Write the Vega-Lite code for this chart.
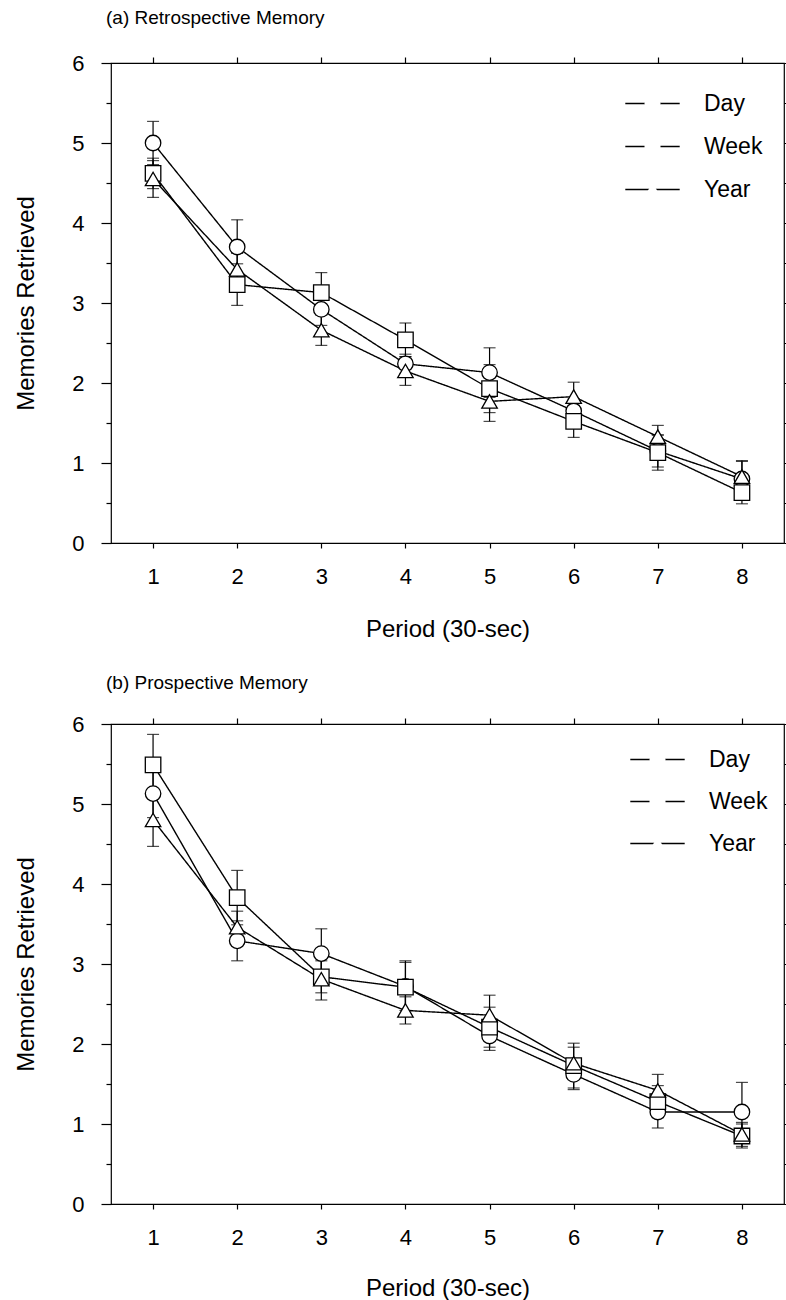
{
  "$schema": "https://vega.github.io/schema/vega-lite/v6.json",
  "padding": {"left": 14, "top": 8, "right": 0, "bottom": 0},
  "background": "white",
  "config": {
    "font": "Liberation Sans",
    "view": {"stroke": "black", "strokeWidth": 1.2},
    "axis": {"grid": false, "domain": false, "tickColor": "black", "labelColor": "black", "titleColor": "black", "titleFontWeight": "normal", "labelFont": "Liberation Sans", "titleFont": "Liberation Sans", "tickWidth": 1.2},
    "title": {"fontWeight": "normal", "color": "black", "font": "Liberation Sans"},
    "legend": {"labelFont": "Liberation Sans", "labelColor": "black", "symbolStrokeColor": "black", "symbolStrokeWidth": 1.3}
  },
  "datasets": {
    "mem": [
      {"panel": "a", "period": 1, "cond": "Day", "mean": 5.00, "se": 0.27},
      {"panel": "a", "period": 2, "cond": "Day", "mean": 3.70, "se": 0.34},
      {"panel": "a", "period": 3, "cond": "Day", "mean": 2.92, "se": 0.20},
      {"panel": "a", "period": 4, "cond": "Day", "mean": 2.24, "se": 0.12},
      {"panel": "a", "period": 5, "cond": "Day", "mean": 2.13, "se": 0.31},
      {"panel": "a", "period": 6, "cond": "Day", "mean": 1.65, "se": 0.15},
      {"panel": "a", "period": 7, "cond": "Day", "mean": 1.15, "se": 0.20},
      {"panel": "a", "period": 8, "cond": "Day", "mean": 0.80, "se": 0.22},
      {"panel": "a", "period": 1, "cond": "Week", "mean": 4.62, "se": 0.19},
      {"panel": "a", "period": 2, "cond": "Week", "mean": 3.23, "se": 0.26},
      {"panel": "a", "period": 3, "cond": "Week", "mean": 3.13, "se": 0.25},
      {"panel": "a", "period": 4, "cond": "Week", "mean": 2.54, "se": 0.21},
      {"panel": "a", "period": 5, "cond": "Week", "mean": 1.93, "se": 0.30},
      {"panel": "a", "period": 6, "cond": "Week", "mean": 1.52, "se": 0.20},
      {"panel": "a", "period": 7, "cond": "Week", "mean": 1.13, "se": 0.22},
      {"panel": "a", "period": 8, "cond": "Week", "mean": 0.63, "se": 0.14},
      {"panel": "a", "period": 1, "cond": "Year", "mean": 4.55, "se": 0.23},
      {"panel": "a", "period": 2, "cond": "Year", "mean": 3.42, "se": 0.20},
      {"panel": "a", "period": 3, "cond": "Year", "mean": 2.66, "se": 0.19},
      {"panel": "a", "period": 4, "cond": "Year", "mean": 2.15, "se": 0.18},
      {"panel": "a", "period": 5, "cond": "Year", "mean": 1.77, "se": 0.25},
      {"panel": "a", "period": 6, "cond": "Year", "mean": 1.83, "se": 0.18},
      {"panel": "a", "period": 7, "cond": "Year", "mean": 1.33, "se": 0.14},
      {"panel": "a", "period": 8, "cond": "Year", "mean": 0.83, "se": 0.20},
      {"panel": "b", "period": 1, "cond": "Day", "mean": 5.13, "se": 0.30},
      {"panel": "b", "period": 2, "cond": "Day", "mean": 3.29, "se": 0.25},
      {"panel": "b", "period": 3, "cond": "Day", "mean": 3.13, "se": 0.31},
      {"panel": "b", "period": 4, "cond": "Day", "mean": 2.72, "se": 0.30},
      {"panel": "b", "period": 5, "cond": "Day", "mean": 2.10, "se": 0.18},
      {"panel": "b", "period": 6, "cond": "Day", "mean": 1.62, "se": 0.19},
      {"panel": "b", "period": 7, "cond": "Day", "mean": 1.15, "se": 0.20},
      {"panel": "b", "period": 8, "cond": "Day", "mean": 1.15, "se": 0.37},
      {"panel": "b", "period": 1, "cond": "Week", "mean": 5.49, "se": 0.38},
      {"panel": "b", "period": 2, "cond": "Week", "mean": 3.83, "se": 0.34},
      {"panel": "b", "period": 3, "cond": "Week", "mean": 2.84, "se": 0.20},
      {"panel": "b", "period": 4, "cond": "Week", "mean": 2.71, "se": 0.33},
      {"panel": "b", "period": 5, "cond": "Week", "mean": 2.21, "se": 0.25},
      {"panel": "b", "period": 6, "cond": "Week", "mean": 1.73, "se": 0.28},
      {"panel": "b", "period": 7, "cond": "Week", "mean": 1.28, "se": 0.20},
      {"panel": "b", "period": 8, "cond": "Week", "mean": 0.85, "se": 0.15},
      {"panel": "b", "period": 1, "cond": "Year", "mean": 4.80, "se": 0.33},
      {"panel": "b", "period": 2, "cond": "Year", "mean": 3.46, "se": 0.20},
      {"panel": "b", "period": 3, "cond": "Year", "mean": 2.81, "se": 0.26},
      {"panel": "b", "period": 4, "cond": "Year", "mean": 2.42, "se": 0.17},
      {"panel": "b", "period": 5, "cond": "Year", "mean": 2.36, "se": 0.25},
      {"panel": "b", "period": 6, "cond": "Year", "mean": 1.76, "se": 0.20},
      {"panel": "b", "period": 7, "cond": "Year", "mean": 1.42, "se": 0.20},
      {"panel": "b", "period": 8, "cond": "Year", "mean": 0.87, "se": 0.15}
    ]
  },
  "spacing": 31,
  "resolve": {"scale": {"shape": "independent", "size": "independent", "strokeDash": "independent"}, "legend": {"shape": "independent", "strokeDash": "independent"}},
  "vconcat": [
    {
      "width": 673,
      "height": 480,
      "title": {"text": "(a) Retrospective Memory", "anchor": "start", "frame": "group", "fontSize": 19, "offset": 24, "dx": -5},
      "data": {"name": "mem"},
      "transform": [{"filter": "datum.panel === 'a'"}],
      "resolve": {"axis": {"x": "independent", "y": "independent"}},
      "layer": [
        {
          "mark": {"type": "line", "color": "black", "strokeWidth": 1.4},
          "encoding": {
            "x": {"field": "period", "type": "quantitative", "scale": {"domain": [0.5, 8.5], "nice": false, "zero": false},
                  "axis": {"orient": "top", "values": [1, 2, 3, 4, 5, 6, 7, 8], "labels": false, "title": null, "tickSize": 6}},
            "y": {"field": "mean", "type": "quantitative", "scale": {"domain": [0, 6], "nice": false},
                  "axis": {"orient": "right", "values": [0, 0.5, 1, 1.5, 2, 2.5, 3, 3.5, 4, 4.5, 5, 5.5, 6], "labels": false, "title": null, "tickSize": 4}},
            "strokeDash": {"field": "cond", "type": "nominal", "title": null,
                           "scale": {"range": [[1, 0], [1, 0], [1, 0]]},
                           "legend": {"orient": "none", "legendX": 530, "legendY": 29, "symbolType": "M-3.4,0L3.4,0", "symbolSize": 256, "symbolStrokeColor": "black", "symbolStrokeWidth": 1.4, "labelFontSize": 23, "labelOffset": 40, "rowPadding": 19, "padding": 0, "labelOpacity": 0}}
          }
        },
        {
          "mark": {"type": "errorbar", "color": "black", "thickness": 1.2, "ticks": {"size": 12, "thickness": 1.2, "color": "black"}},
          "encoding": {
            "x": {"field": "period", "type": "quantitative", "axis": null},
            "y": {"field": "mean", "type": "quantitative",
                  "axis": {"orient": "left", "values": [0.5, 1.5, 2.5, 3.5, 4.5, 5.5], "labels": false, "title": null, "tickSize": 5}},
            "yError": {"field": "se"},
            "detail": {"field": "cond"}
          }
        },
        {
          "mark": {"type": "point", "filled": true, "fill": "white", "stroke": "black", "strokeWidth": 1.3, "opacity": 1},
          "encoding": {
            "x": {"field": "period", "type": "quantitative",
                  "axis": {"orient": "bottom", "values": [1, 2, 3, 4, 5, 6, 7, 8], "title": "Period (30-sec)", "tickSize": 5, "labelFontSize": 22, "labelPadding": 18, "titleFontSize": 24, "titlePadding": 30}},
            "y": {"field": "mean", "type": "quantitative",
                  "axis": {"orient": "left", "values": [0, 1, 2, 3, 4, 5, 6], "title": "Memories Retrieved", "tickSize": 10, "labelFontSize": 22, "labelPadding": 17, "titleFontSize": 24, "titlePadding": 33}},
            "shape": {"field": "cond", "type": "nominal", "title": null,
                      "scale": {"domain": ["Day", "Week", "Year"], "range": ["circle", "square", "triangle-up"]},
                      "legend": {"orient": "none", "legendX": 530, "legendY": 29, "symbolSize": 256, "symbolFillColor": "white", "symbolStrokeColor": "black", "symbolStrokeWidth": 1.3, "labelFontSize": 23, "labelOffset": 40, "rowPadding": 19, "padding": 0,
                                 "encode": {"symbols": {"stroke": {"value": "black"}, "strokeWidth": {"value": 1.3}, "strokeOpacity": {"value": 1}, "fill": {"value": "white"}, "opacity": {"value": 1}}}}},
            "size": {"field": "cond", "type": "nominal", "scale": {"range": [240, 240, 420]}, "legend": null}
          }
        }
      ]
    },
    {
      "width": 673,
      "height": 480,
      "title": {"text": "(b) Prospective Memory", "anchor": "start", "frame": "group", "fontSize": 19, "offset": 20, "dx": -5},
      "data": {"name": "mem"},
      "transform": [{"filter": "datum.panel === 'b'"}],
      "resolve": {"axis": {"x": "independent", "y": "independent"}},
      "layer": [
        {
          "mark": {"type": "line", "color": "black", "strokeWidth": 1.4},
          "encoding": {
            "x": {"field": "period", "type": "quantitative", "scale": {"domain": [0.5, 8.5], "nice": false, "zero": false},
                  "axis": {"orient": "top", "values": [1, 2, 3, 4, 5, 6, 7, 8], "labels": false, "title": null, "tickSize": 6}},
            "y": {"field": "mean", "type": "quantitative", "scale": {"domain": [0, 6], "nice": false},
                  "axis": {"orient": "right", "values": [0, 0.5, 1, 1.5, 2, 2.5, 3, 3.5, 4, 4.5, 5, 5.5, 6], "labels": false, "title": null, "tickSize": 4}},
            "strokeDash": {"field": "cond", "type": "nominal", "title": null,
                           "scale": {"range": [[1, 0], [1, 0], [1, 0]]},
                           "legend": {"orient": "none", "legendX": 535, "legendY": 24, "symbolType": "M-3.4,0L3.4,0", "symbolSize": 256, "symbolStrokeColor": "black", "symbolStrokeWidth": 1.4, "labelFontSize": 23, "labelOffset": 40, "rowPadding": 18, "padding": 0, "labelOpacity": 0}}
          }
        },
        {
          "mark": {"type": "errorbar", "color": "black", "thickness": 1.2, "ticks": {"size": 12, "thickness": 1.2, "color": "black"}},
          "encoding": {
            "x": {"field": "period", "type": "quantitative", "axis": null},
            "y": {"field": "mean", "type": "quantitative",
                  "axis": {"orient": "left", "values": [0.5, 1.5, 2.5, 3.5, 4.5, 5.5], "labels": false, "title": null, "tickSize": 5}},
            "yError": {"field": "se"},
            "detail": {"field": "cond"}
          }
        },
        {
          "mark": {"type": "point", "filled": true, "fill": "white", "stroke": "black", "strokeWidth": 1.3, "opacity": 1},
          "encoding": {
            "x": {"field": "period", "type": "quantitative",
                  "axis": {"orient": "bottom", "values": [1, 2, 3, 4, 5, 6, 7, 8], "title": "Period (30-sec)", "tickSize": 5, "labelFontSize": 22, "labelPadding": 18, "titleFontSize": 24, "titlePadding": 28}},
            "y": {"field": "mean", "type": "quantitative",
                  "axis": {"orient": "left", "values": [0, 1, 2, 3, 4, 5, 6], "title": "Memories Retrieved", "tickSize": 10, "labelFontSize": 22, "labelPadding": 17, "titleFontSize": 24, "titlePadding": 33}},
            "shape": {"field": "cond", "type": "nominal", "title": null,
                      "scale": {"domain": ["Day", "Week", "Year"], "range": ["circle", "square", "triangle-up"]},
                      "legend": {"orient": "none", "legendX": 535, "legendY": 24, "symbolSize": 256, "symbolFillColor": "white", "symbolStrokeColor": "black", "symbolStrokeWidth": 1.3, "labelFontSize": 23, "labelOffset": 40, "rowPadding": 18, "padding": 0,
                                 "encode": {"symbols": {"stroke": {"value": "black"}, "strokeWidth": {"value": 1.3}, "strokeOpacity": {"value": 1}, "fill": {"value": "white"}, "opacity": {"value": 1}}}}},
            "size": {"field": "cond", "type": "nominal", "scale": {"range": [240, 240, 420]}, "legend": null}
          }
        }
      ]
    }
  ]
}
